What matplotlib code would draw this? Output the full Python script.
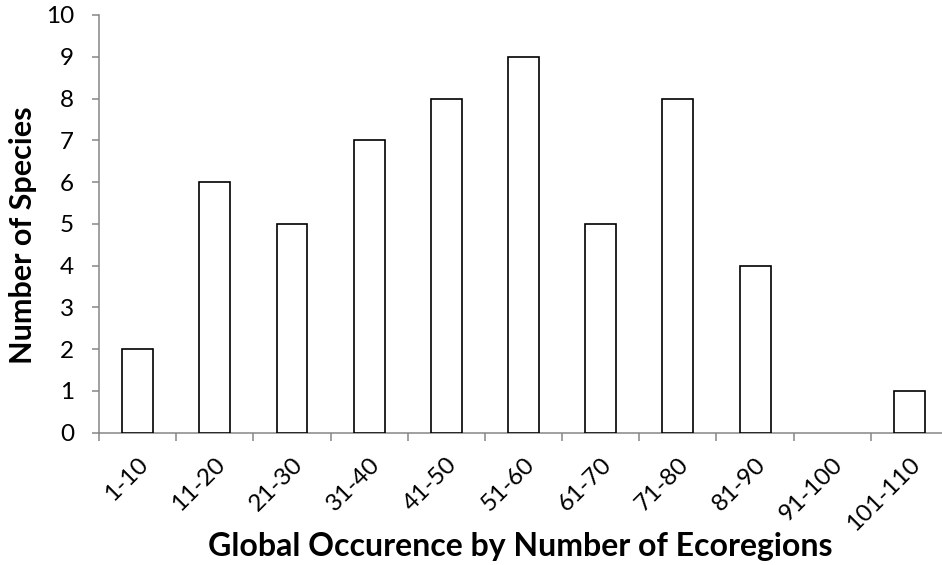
import numpy as np
import matplotlib.pyplot as plt

categories = ["1-10", "11-20", "21-30", "31-40", "41-50", "51-60",
              "61-70", "71-80", "81-90", "91-100", "101-110"]
species = [2, 6, 5, 7, 8, 9, 5, 8, 4, 0, 1]

plt.rcParams["font.family"] = ["Lato", "DejaVu Sans"]

fig = plt.figure(figsize=(9.42, 5.65), dpi=100)
ax = fig.add_axes([0.1051, 0.2342, 0.9013, 0.7393])

x = np.arange(len(categories))
edges = ["black" if v > 0 else "none" for v in species]
ax.bar(x, species, width=0.40, color="white", edgecolor=edges, linewidth=1.2, zorder=3)

ax.set_xlim(-0.5, len(categories) - 0.5)
ax.set_ylim(0, 10)
ax.set_yticks(range(0, 11))

# ticks between categories, labels at centers
ax.set_xticks(np.arange(-0.5, len(categories), 1.0))
ax.set_xticklabels([])
ax.set_xticks(x, minor=True)
ax.set_xticklabels(categories, minor=True, rotation=45, ha="right",
                   rotation_mode="anchor", fontsize=17.5)
ax.tick_params(axis="x", which="minor", length=0, pad=15)
ax.tick_params(axis="x", which="major", length=6, width=1.1, color="#868686")
ax.tick_params(axis="y", length=5, width=1.1, color="#868686", labelsize=17.5, pad=13)

for side in ["top", "right"]:
    ax.spines[side].set_visible(False)
for side in ["left", "bottom"]:
    ax.spines[side].set_color("#868686")
    ax.spines[side].set_linewidth(1.1)

fig.text(0.024, 0.584, "Number of Species", fontsize=22, fontweight="bold",
         rotation=90, ha="center", va="center")
fig.text(0.552, 0.032, "Global Occurence by Number of Ecoregions",
         fontsize=23, fontweight="bold", ha="center", va="center")

fig.savefig("out.png", dpi=100)
